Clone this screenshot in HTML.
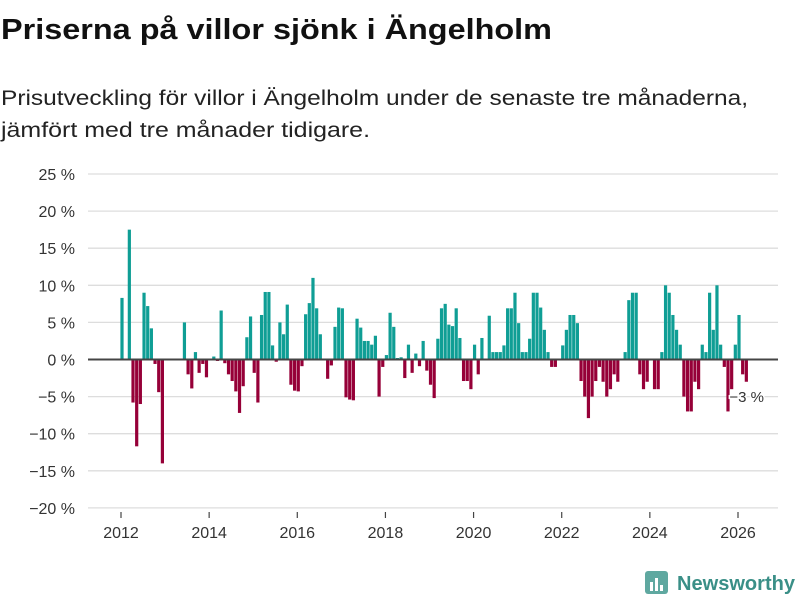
<!DOCTYPE html>
<html><head><meta charset="utf-8"><style>
body{margin:0;background:#fff;width:800px;height:600px;overflow:hidden}
svg{display:block;font-family:"Liberation Sans","DejaVu Sans",sans-serif}
</style></head><body>
<svg id="c" width="800" height="600">
<text x="1" y="39" font-size="29" font-weight="bold" fill="#111" textLength="551" lengthAdjust="spacingAndGlyphs">Priserna på villor sjönk i Ängelholm</text>
<text x="1" y="105" font-size="21" fill="#222" textLength="747" lengthAdjust="spacingAndGlyphs">Prisutveckling för villor i Ängelholm under de senaste tre månaderna,</text>
<text x="1" y="137" font-size="21" fill="#222" textLength="369" lengthAdjust="spacingAndGlyphs">jämfört med tre månader tidigare.</text>
<g id="grid"></g><g id="bars"></g><g id="axes"></g>
<g>
<rect x="645" y="571" width="23" height="23" rx="3" fill="#5fa8a0"/>
<rect x="650" y="582" width="3" height="9" fill="#fff"/><rect x="655" y="578" width="3" height="13" fill="#fff"/><rect x="660" y="585" width="3" height="6" fill="#fff"/>
<text x="677" y="590" font-size="20" font-weight="bold" fill="#3a8f87" textLength="118" lengthAdjust="spacingAndGlyphs">Newsworthy</text>
</g>
</svg>
<script>
const yTicks=[25,20,15,10,5,0,-5,-10,-15,-20];
const yearTicks=[2012,2014,2016,2018,2020,2022,2024,2026];
const months=[0,2,3,4,5,6,7,8,9,10,11,17,18,19,20,21,22,23,25,26,27,28,29,30,31,32,33,34,35,36,37,38,39,40,41,42,43,44,45,46,47,48,49,50,51,52,53,54,56,57,58,59,60,61,62,63,64,65,66,67,68,69,70,71,72,73,74,75,76,77,78,79,80,81,82,83,84,85,86,87,88,89,90,91,92,93,94,95,96,97,98,100,101,102,103,104,105,106,107,108,109,110,111,112,113,114,115,116,117,118,120,121,122,123,124,125,126,127,128,129,130,131,132,133,134,135,137,138,139,140,141,142,143,145,146,147,148,149,150,151,152,153,154,155,156,157,158,159,160,161,162,163,164,165,166,167,168,169,170];
const values=[8.3,17.5,-5.8,-11.7,-6,9,7.2,4.2,-0.6,-4.4,-14,5,-2,-3.9,1,-1.8,-0.6,-2.4,0.4,-0.2,6.6,-0.5,-2,-2.9,-4.3,-7.2,-3.6,3,5.8,-1.8,-5.8,6,9.1,9.1,1.9,-0.3,5,3.4,7.4,-3.4,-4.2,-4.3,-0.9,6.1,7.6,11,6.9,3.4,-2.6,-0.8,4.4,7,6.9,-5.1,-5.4,-5.5,5.5,4.3,2.5,2.5,2,3.2,-5,-1,0.6,6.3,4.4,0.2,0.3,-2.5,2,-1.8,0.8,-0.9,2.5,-1.5,-3.4,-5.2,2.8,6.9,7.5,4.7,4.5,6.9,2.9,-2.9,-2.9,-4,2,-2,2.9,5.9,1,1,1,1.9,6.9,6.9,9,4.9,1,1,2.8,9,9,7,4,1,-1,-1,1.9,4,6,6,4.9,-2.9,-5,-7.9,-5,-2.9,-1,-3,-5,-4,-2,-3,1,8,9,9,-2,-4,-3,-4,-4,1,10,9,6,4,2,-5,-7,-7,-3,-4,2,1,9,4,10,2,-1,-7,-4,2,6,-2,-3];
const lastLabel="−3 %";
const NS="http://www.w3.org/2000/svg";
const X0=121,XPM=(738-121)/168;
const yScale=v=>359.5-v*7.42;
const xMonth=m=>X0+m*XPM+1;
const xYear=y=>X0+(y-2012)*12*XPM;
function mk(t,a,p){const e=document.createElementNS(NS,t);for(const k in a)e.setAttribute(k,a[k]);p.appendChild(e);return e;}
const grid=document.getElementById('grid'),bars=document.getElementById('bars'),axes=document.getElementById('axes');
yTicks.forEach(v=>{
 const l=mk('line',{x1:88,x2:778,y1:yScale(v),y2:yScale(v),stroke:'#ddd','stroke-width':1.3},grid);
 
 
 const t=mk('text',{x:75,y:yScale(v)+6,'font-size':16,fill:'#333','text-anchor':'end'},axes);
 t.textContent=(v<0?'−'+(-v):v)+' %';
 
 
});
months.forEach((m,i)=>{
 const v=values[i];
 const y0=yScale(0),y1=yScale(v);
 const r=mk('rect',{x:xMonth(m)-1.6,y:Math.min(y0,y1),width:3.2,height:Math.abs(y1-y0),fill:v>=0?'#0f9e95':'#960038'},bars);
 
 
});
const zl=mk('line',{x1:88,x2:778,y1:yScale(0),y2:yScale(0),stroke:'#444','stroke-width':2},axes);


yearTicks.forEach(y=>{
 const x=xYear(y);
 const tk=mk('line',{x1:x,x2:x,y1:512,y2:518,stroke:'#444','stroke-width':1.2},axes);
 
 
 const t=mk('text',{x:x,y:538,'font-size':16,fill:'#333','text-anchor':'middle'},axes);
 t.textContent=y;
 
 
});
const lastV=values[values.length-1];
const lt=mk('text',{x:xMonth(months[months.length-1])-17,y:yScale(lastV)+20,'font-size':15,fill:'#333',stroke:'#fff','stroke-width':3,'paint-order':'stroke'},axes);
lt.textContent=lastLabel;


</script>
</body></html>
